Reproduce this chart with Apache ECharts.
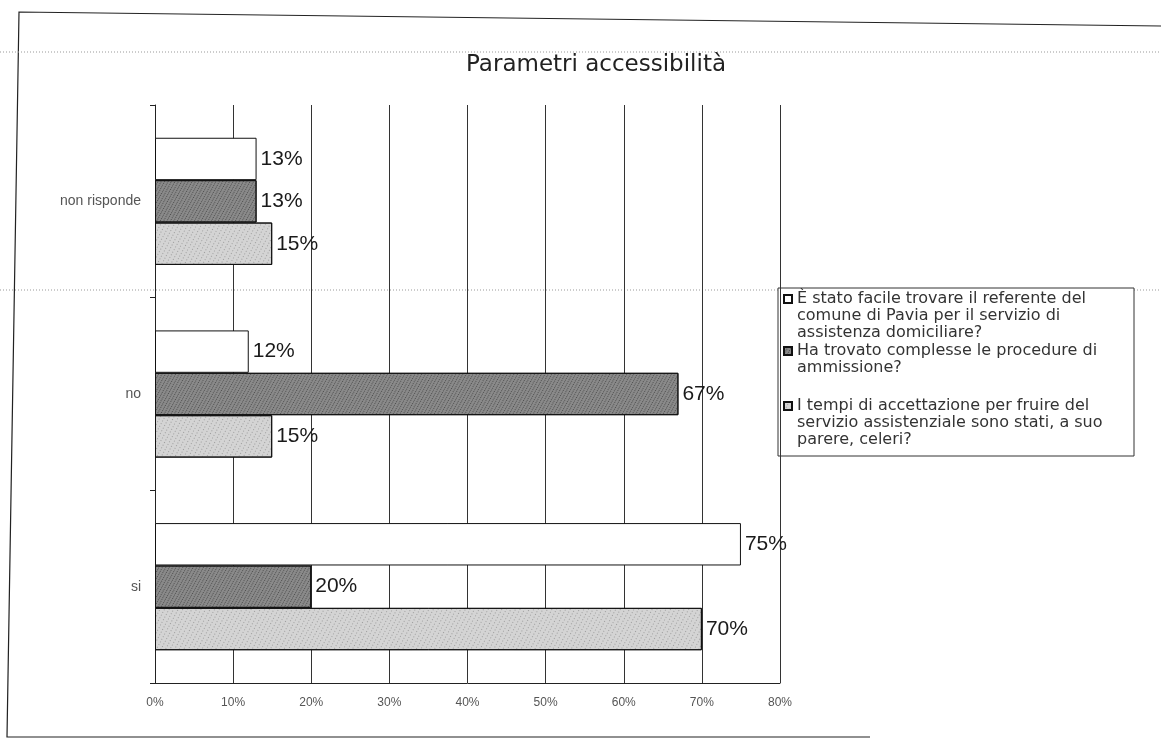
<!DOCTYPE html>
<html>
<head>
<meta charset="utf-8">
<script src="https://cdn.jsdelivr.net/npm/echarts@6/dist/echarts.min.js"></script>
<style>
  html, body { margin: 0; padding: 0; background: #fff; }
  #chart { width: 1161px; height: 743px; }
</style>
</head>
<body>
<div id="chart"></div>
<script>
// Answers grouped by response, bottom-to-top on the category axis
const categories = ['si', 'no', 'non risponde'];
const seriesNames = [
  'È stato facile trovare il referente del\ncomune di Pavia per il servizio di\nassistenza domiciliare?',
  'Ha trovato complesse le procedure di\nammissione?',
  'I tempi di accettazione per fruire del\nservizio assistenziale sono stati, a suo\nparere, celeri?'
];
const referenteValues = [75, 12, 13];
const procedureValues = [20, 67, 13];
const tempiValues = [70, 15, 15];
const xTicks = [0, 10, 20, 30, 40, 50, 60, 70, 80];

const chart = echarts.init(document.getElementById('chart'));
const font = 'Liberation Sans, Arial, sans-serif';
const wideFont = 'DejaVu Sans, Liberation Sans, sans-serif';
const LINE = 17;

const labelStyle = {
  show: true,
  position: 'right',
  distance: 4,
  formatter: '{c}%',
  fontFamily: font,
  fontSize: 21,
  color: '#1a1a1a'
};

function bar(name, values, color, decal) {
  return {
    name: name,
    type: 'bar',
    data: values,
    barGap: '0%',
    barCategoryGap: '34%',
    itemStyle: { color: color, borderColor: '#111', borderWidth: 1, decal: decal },
    label: labelStyle
  };
}

const darkDecal = { symbol: 'rect', symbolSize: 1, color: 'rgba(30,30,30,0.55)', dashArrayX: [1, 2], dashArrayY: [1, 1], rotation: 0.5 };
const lightDecal = { symbol: 'rect', symbolSize: 1, color: 'rgba(90,90,90,0.45)', dashArrayX: [1, 3], dashArrayY: [1, 2], rotation: 0.5 };

// One legend per question. The marker is centred on the text block, so
// blank lines are put in front of the name until the marker lines up
// with the first text line.
function legendAt(firstLineY, name) {
  const lines = name.split('\n').length;
  const lead = lines - 1;
  return {
    data: [name],
    left: 783,
    top: firstLineY - LINE / 2 - lead * LINE,
    padding: 0,
    orient: 'vertical',
    icon: 'rect',
    itemWidth: 8,
    itemHeight: 8,
    itemGap: 0,
    selectedMode: false,
    formatter: function (n) { return '\n'.repeat(lead) + n; },
    textStyle: { fontFamily: wideFont, fontSize: 16, color: '#333', lineHeight: LINE }
  };
}

chart.setOption({
  aria: { enabled: false },
  title: {
    text: 'Parametri accessibilità',
    left: 591,
    top: 49,
    textAlign: 'center',
    textStyle: { fontFamily: wideFont, fontSize: 23, fontWeight: 'normal', color: '#222' }
  },
  legend: [
    legendAt(299, seriesNames[0]),
    legendAt(351, seriesNames[1]),
    legendAt(406, seriesNames[2])
  ],
  grid: { left: 155, right: 381, top: 105, bottom: 60 },
  xAxis: {
    type: 'value',
    min: xTicks[0],
    max: xTicks[xTicks.length - 1],
    interval: 10,
    axisLine: { show: true, lineStyle: { color: '#222' } },
    axisTick: { show: false },
    splitLine: { show: true, lineStyle: { color: '#333', width: 1 } },
    axisLabel: {
      formatter: '{value}%',
      fontFamily: font,
      fontSize: 12,
      color: '#555',
      margin: 14
    }
  },
  yAxis: {
    type: 'category',
    data: categories,
    axisLine: { show: true, lineStyle: { color: '#222' } },
    axisTick: { show: true, length: 5, lineStyle: { color: '#222' } },
    axisLabel: { fontFamily: font, fontSize: 14, color: '#555', margin: 14 }
  },
  series: [
    bar(seriesNames[0], referenteValues, '#ffffff', undefined),
    bar(seriesNames[1], procedureValues, '#8a8a8a', darkDecal),
    bar(seriesNames[2], tempiValues, '#d4d4d4', lightDecal)
  ],
  color: ['#ffffff', '#8a8a8a', '#d4d4d4'],
  graphic: [
    // outer frame of the chart (open on the right)
    { type: 'polyline', shape: { points: [[1161, 26], [19, 12], [7, 737], [870, 737]] },
      style: { fill: 'none', stroke: '#222', lineWidth: 1.2 }, silent: true },
    // legend box
    { type: 'rect', shape: { x: 778, y: 288, width: 356, height: 168 },
      style: { fill: '#fff', stroke: '#333', lineWidth: 1 }, silent: true, z: -1 },
    // dotted page guides
    { type: 'line', shape: { x1: 0, y1: 52, x2: 1161, y2: 52 },
      style: { stroke: '#999', lineDash: [1, 2], lineWidth: 1 }, silent: true },
    { type: 'line', shape: { x1: 0, y1: 290, x2: 1161, y2: 290 },
      style: { stroke: '#999', lineDash: [1, 2], lineWidth: 1 }, silent: true, z: -2 }
  ]
});
</script>
</body>
</html>
